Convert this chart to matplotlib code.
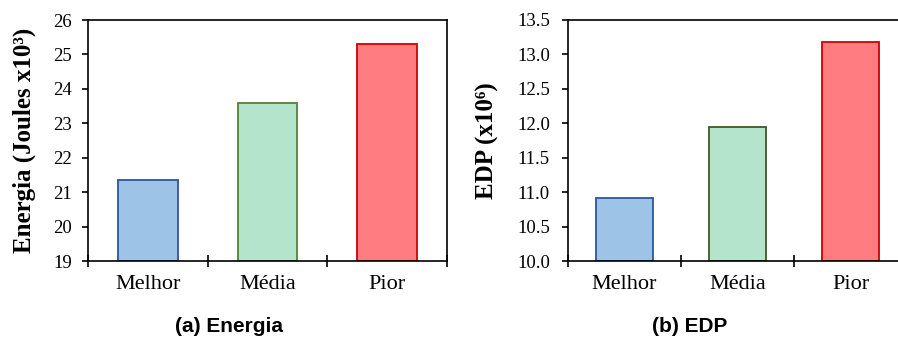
import matplotlib
matplotlib.use("Agg")
import matplotlib.pyplot as plt
import numpy as np

categorias = ["Melhor", "Média", "Pior"]
energia = [21.35, 23.6, 25.3]
edp = [10.92, 11.95, 13.18]

cores = ["#9DC3E6", "#B4E4CB", "#FF7C80"]
bordas_a = ["#2F5597", "#548235", "#D00000"]
bordas_b = ["#2F5597", "#3A5A22", "#D00000"]

serif = ["Liberation Serif", "DejaVu Serif"]
sans = ["Liberation Sans", "DejaVu Sans"]

fig = plt.figure(figsize=(8.98, 3.38), dpi=100)
ax1 = fig.add_axes([88 / 898, 1 - 261 / 338, 359 / 898, 241 / 338])
ax2 = fig.add_axes([568 / 898, 1 - 261 / 338, 339 / 898, 241 / 338])

x = np.arange(1, len(categorias) + 1)


def estilo(ax, valores, bordas, ylim, yticks, fmt, ylabel, ypad):
    ax.bar(x, [v - ylim[0] for v in valores], bottom=ylim[0], width=0.5,
           color=cores, edgecolor=bordas, linewidth=1.3, zorder=2)
    ax.set_xlim(0.5, 3.5)
    ax.set_ylim(*ylim)
    ax.set_yticks(yticks)
    ax.set_yticklabels([fmt.format(t) for t in yticks], family=serif, fontsize=13.5)
    ax.set_xticks(x)
    ax.set_xticklabels(categorias, family=serif, fontsize=16)
    ax.tick_params(axis="x", which="major", length=0, pad=10)
    ax.set_xticks([0.5, 1.5, 2.5, 3.5], minor=True)
    ax.tick_params(axis="x", which="minor", direction="inout", length=9, width=1.2)
    ax.tick_params(axis="y", direction="out", length=4.5, width=1.2, pad=ypad)
    for s in ax.spines.values():
        s.set_linewidth(1.2)
    ax.set_ylabel(ylabel, family=serif, fontsize=18, fontweight="bold")


estilo(ax1, energia, bordas_a, (19, 26), list(range(19, 27)), "{:d}",
       "Energia (Joules x10³)", 7)
estilo(ax2, edp, bordas_b, (10.0, 13.5), list(np.arange(10.0, 13.51, 0.5)), "{:.1f}",
       "EDP (x10⁶)", 8.5)
ax1.yaxis.set_label_coords(-0.146, 0.5)
ax2.yaxis.set_label_coords(-0.203, 0.5)

fig.text(229 / 898, 1 - 326 / 338, "(a) Energia", family=sans, fontsize=15,
         fontweight="bold", ha="center", va="center")
fig.text(690 / 898, 1 - 326 / 338, "(b) EDP", family=sans, fontsize=15,
         fontweight="bold", ha="center", va="center")

fig.savefig("out.png", dpi=100)
